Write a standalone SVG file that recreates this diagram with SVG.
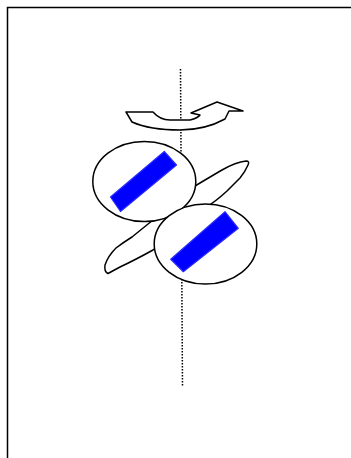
<svg xmlns="http://www.w3.org/2000/svg" width="351" height="458" viewBox="0 0 351 458">
<style>
.o{fill:#fff;stroke:#000;stroke-width:1.5;stroke-linejoin:round}
.b{fill:#0000ff;stroke:#2a2aff;stroke-width:1.2;stroke-linejoin:round}
.ax{fill:none;stroke:#000;stroke-width:1.5;stroke-dasharray:1.5 1.5}
</style>
<g id="frame"><path d="M7.5,458 V7.5 H351" fill="none" stroke="#000" stroke-width="1.5"/></g>
<g id="connectors"><path class="ax" d="M180.5,69 L182.5,387"/></g>
<g id="rotation-arrow"><path class="o" d="M126,112 L153,112 Q160,120 170,120 L190,120 Q198,118 200,115 L191,113 L217,102 L243,111 L229,111 L225,119 Q205,130 180,130 Q150,130 132,122 Z"/></g>
<g id="leaf"><path class="o" d="M108,273.5 Q104,272 105,265 Q108,256 116,248 Q124,242 132,237 L195,186 Q210,177 222,170 Q236,162 246,161 Q250,161 248,165 Q245,172 240,178 L227,191 Q215,202 205,208 L153,250 Q135,260 120,267 Z"/></g>
<g id="cell-1"><ellipse class="o" cx="144.3" cy="181.5" rx="51.5" ry="40"/><polygon class="b" points="110.5,197 120.5,211.5 176.5,165 164.3,151.5"/></g>
<g id="cell-2"><ellipse class="o" cx="205.5" cy="244" rx="51.3" ry="40"/><polygon class="b" points="170.7,259.3 183.3,271.7 238.3,228.3 225,211.7"/></g>
</svg>
